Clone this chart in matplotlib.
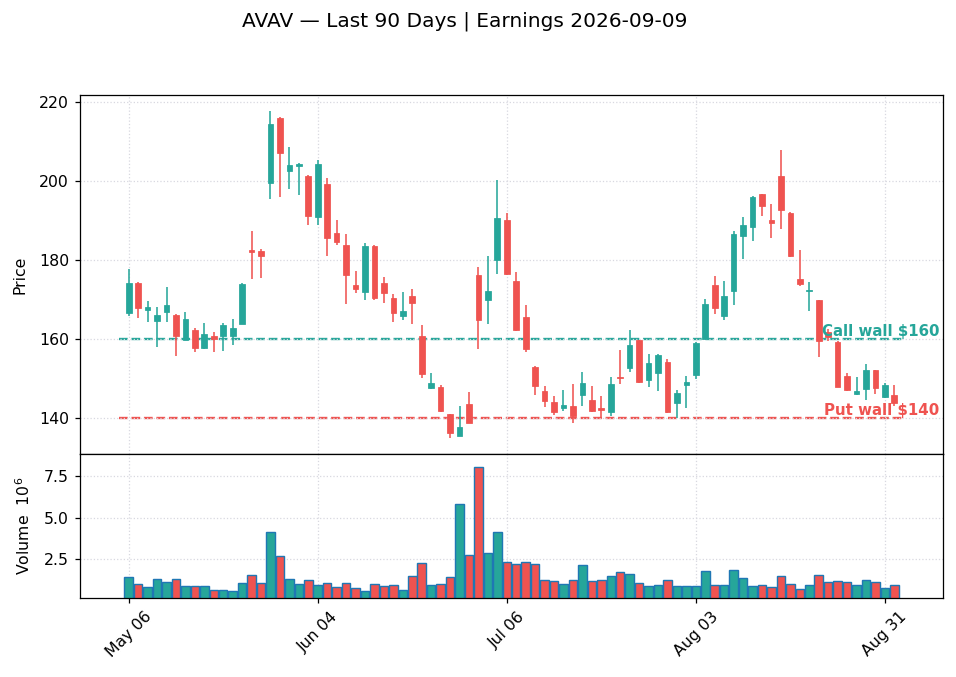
import pandas as pd
import matplotlib
matplotlib.use('Agg')
from matplotlib import pyplot as plt
from matplotlib import transforms

# trading days (NYSE holidays skipped)
dates = pd.bdate_range('2026-05-06', periods=82, freq='C',
                       holidays=['2026-05-25', '2026-06-19', '2026-07-03'])

opens = [166.5, 174.3, 167.3, 164.5, 166.8, 166.2, 159.8, 162.2, 157.7, 160.8,
         160.9, 160.7, 163.8, 182.6, 182.4, 199.6, 216.0, 202.4, 203.7, 201.3,
         190.8, 199.3, 186.9, 183.9, 173.8, 171.9, 183.6, 174.3, 170.3, 165.8,
         170.8, 160.7, 147.6, 147.8, 141.0, 135.6, 143.5, 176.3, 169.9, 179.9,
         190.2, 174.8, 165.5, 152.9, 146.8, 144.0, 142.6, 143.0, 145.9, 144.7,
         142.5, 141.5, 150.4, 152.7, 159.8, 149.7, 151.4, 154.3, 143.9, 148.4,
         151.0, 160.0, 173.8, 165.8, 172.3, 186.2, 188.3, 196.7, 190.0, 201.3,
         192.0, 175.2, 172.3, 169.9, 161.9, 159.4, 150.8, 146.1, 147.4, 152.1,
         145.3, 145.8]
highs = [177.7, 174.4, 169.7, 168.1, 173.2, 166.3, 166.9, 162.8, 164.1, 161.8,
         164.1, 165.0, 174.2, 187.3, 182.8, 217.6, 216.2, 208.7, 204.5, 201.5,
         205.3, 200.7, 190.1, 186.5, 177.2, 184.3, 183.8, 175.6, 171.4, 171.9,
         172.6, 163.5, 151.4, 148.4, 141.2, 143.2, 146.6, 178.2, 181.0, 200.2,
         191.8, 176.9, 168.7, 153.2, 148.2, 145.7, 147.2, 148.7, 151.7, 148.2,
         145.7, 150.5, 157.3, 162.2, 159.9, 156.3, 156.3, 155.0, 147.2, 150.6,
         159.2, 170.1, 176.0, 174.6, 187.4, 190.8, 196.1, 196.8, 194.1, 207.8,
         192.1, 182.5, 174.4, 170.0, 162.5, 159.5, 151.4, 150.4, 153.8, 152.2,
         149.0, 148.4]
lows = [165.9, 165.4, 164.4, 158.0, 164.4, 155.8, 159.7, 156.8, 157.6, 156.8,
        157.1, 158.6, 163.8, 175.2, 175.5, 195.4, 195.9, 197.9, 196.4, 188.9,
        188.9, 181.0, 183.8, 168.9, 171.7, 170.0, 169.9, 169.2, 164.4, 164.9,
        163.9, 150.2, 147.3, 141.5, 135.1, 135.5, 138.7, 157.6, 163.9, 176.6,
        176.3, 162.0, 156.8, 145.9, 142.9, 140.9, 141.9, 138.9, 143.2, 141.7,
        140.0, 140.7, 148.7, 151.6, 149.0, 148.0, 147.0, 141.4, 140.0, 142.6,
        149.9, 160.0, 166.4, 164.9, 168.7, 180.3, 184.8, 191.1, 185.6, 187.8,
        180.7, 173.4, 167.1, 155.6, 159.6, 147.8, 146.9, 146.0, 144.5, 146.2,
        145.2, 143.2]
closes = [174.3, 167.8, 168.2, 166.2, 168.7, 160.7, 165.1, 157.7, 161.3, 160.1,
          163.7, 162.9, 174.0, 182.0, 180.9, 214.4, 207.0, 204.1, 204.3, 191.2,
          204.3, 185.7, 184.5, 176.2, 172.6, 183.6, 170.3, 171.7, 166.5, 167.0,
          169.2, 151.1, 149.0, 141.8, 136.3, 137.9, 138.9, 164.9, 172.3, 190.7,
          176.6, 162.2, 157.5, 148.1, 144.3, 141.5, 143.3, 140.7, 149.0, 141.8,
          142.2, 148.7, 150.2, 158.6, 149.1, 154.1, 156.1, 141.7, 146.4, 149.2,
          159.1, 168.9, 167.9, 170.9, 186.6, 188.9, 196.0, 193.6, 189.4, 192.6,
          181.0, 173.9, 172.5, 159.6, 160.5, 147.9, 147.1, 146.8, 152.1, 147.6,
          148.3, 143.8]
# volume in millions
volumes = [1.42, 1.03, 0.85, 1.34, 1.15, 1.34, 0.91, 0.91, 0.91, 0.67,
           0.67, 0.61, 1.09, 1.58, 1.09, 4.11, 2.72, 1.34, 1.03, 1.28,
           0.97, 1.09, 0.85, 1.09, 0.79, 0.61, 1.03, 0.91, 0.97, 0.67,
           1.52, 2.30, 0.97, 1.03, 1.46, 5.85, 2.78, 8.02, 2.90, 4.11,
           2.36, 2.24, 2.36, 2.24, 1.28, 1.21, 1.03, 1.28, 2.18, 1.21,
           1.28, 1.52, 1.76, 1.64, 1.09, 0.91, 0.97, 1.28, 0.91, 0.91,
           0.91, 1.82, 0.97, 0.97, 1.88, 1.40, 0.91, 0.97, 0.85, 1.52,
           1.03, 0.73, 0.97, 1.58, 1.15, 1.21, 1.15, 0.97, 1.28, 1.15,
           0.79, 0.97]

call_wall = 160
put_wall = 140

up_c = '#26a69a'
dn_c = '#ef5350'

n = len(dates)
x = list(range(n))
cols = [up_c if c >= o else dn_c for o, c in zip(opens, closes)]

DPI = 113
fig = plt.figure(figsize=(956 / DPI, 677 / DPI), dpi=DPI)
ax = fig.add_axes([0.0837, 0.3294, 0.9027, 0.5303])
axv = fig.add_axes([0.0837, 0.1167, 0.9027, 0.2127], sharex=ax)

# candles
ax.vlines(x, lows, highs, colors=cols, linewidth=1, zorder=2)
bot = [min(o, c) for o, c in zip(opens, closes)]
hgt = [max(abs(c - o), 0.2) for o, c in zip(opens, closes)]
ax.bar(x, hgt, bottom=bot, width=0.6, color=cols, edgecolor=cols, linewidth=0.5, zorder=3)

# walls
ax.hlines(call_wall, -1, n, colors=up_c, linestyles='--', linewidth=1.5, zorder=1)
ax.hlines(put_wall, -1, n, colors=dn_c, linestyles='--', linewidth=1.5, zorder=1)
tr = transforms.blended_transform_factory(ax.transAxes, ax.transData)
ax.text(0.996, call_wall, 'Call wall $%d' % call_wall, transform=tr, ha='right', va='bottom',
        color=up_c, fontsize=9.6, fontweight='bold', zorder=5)
ax.text(0.996, put_wall, 'Put wall $%d' % put_wall, transform=tr, ha='right', va='bottom',
        color=dn_c, fontsize=9.6, fontweight='bold', zorder=5)

ax.set_ylabel('Price', labelpad=7)
ax.grid(True, linestyle=':', color='#d8d8e0', linewidth=0.8)
ax.tick_params(labelbottom=False)

# volume
axv.bar(x, volumes, width=0.9, color=cols, edgecolor='#1f77b4', linewidth=0.9, zorder=2)
axv.set_ylim(0.17, 8.83)
axv.set_yticks([2.5, 5.0, 7.5])
axv.set_ylabel('Volume  $10^6$', labelpad=7)
axv.grid(True, linestyle=':', color='#d8d8e0', linewidth=0.8)

ax.set_xlim(-5.15, n + 4.15)
ticks = list(range(0, n, 20))
axv.set_xticks(ticks)
axv.set_xticklabels([dates[i].strftime('%b %d') for i in ticks], rotation=45)

fig.suptitle('AVAV — Last 90 Days | Earnings 2026-09-09', fontsize=12.8, x=0.486, y=0.983, va='top')

fig.savefig('out.png', dpi=DPI)
